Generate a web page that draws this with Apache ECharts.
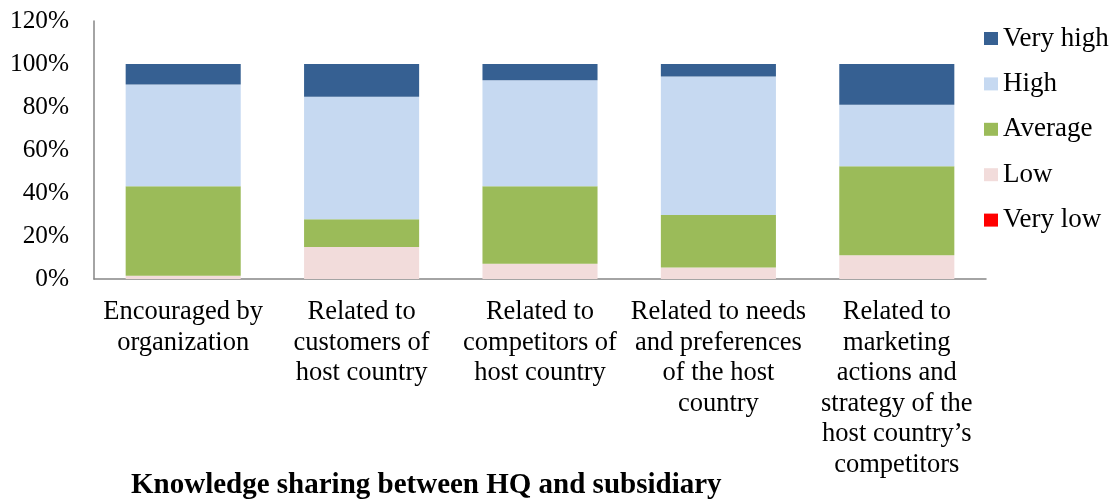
<!DOCTYPE html>
<html>
<head>
<meta charset="utf-8">
<script src="https://cdn.jsdelivr.net/npm/echarts@6/dist/echarts.min.js"></script>
<style>
  html, body { margin: 0; padding: 0; background: #fff; }
  #chart { width: 1115px; height: 499px; }
</style>
</head>
<body>
<div id="chart"></div>
<script>
// Knowledge sharing levels per topic, in percent of respondents
const categories = [
  'Encouraged by\norganization',
  'Related to\ncustomers of\nhost country',
  'Related to\ncompetitors of\nhost country',
  'Related to needs\nand preferences\nof the host\ncountry',
  'Related to\nmarketing\nactions and\nstrategy of the\nhost country\u2019s\ncompetitors'
];
const veryLow  = [0, 0, 0, 0, 0];
const low      = [1.5, 14.9, 7.1, 5.4, 11.0];
const average  = [41.6, 12.9, 36.0, 24.4, 41.4];
const high     = [47.4, 57.0, 49.3, 64.4, 28.6];
const veryHigh = [9.5, 15.2, 7.6, 5.8, 19.0];

const seriesNames = ['Very low', 'Low', 'Average', 'High', 'Very high'];
const legendOrder = ['Very high', 'High', 'Average', 'Low', 'Very low'];
const colors = {
  'Very low': '#FF0000',
  'Low': '#F2DCDB',
  'Average': '#9BBB59',
  'High': '#C6D9F1',
  'Very high': '#366092'
};
const values = [veryLow, low, average, high, veryHigh];

const font = '"Liberation Serif", "Times New Roman", serif';

const chart = echarts.init(document.getElementById('chart'));
chart.setOption({
  animation: false,
  textStyle: { fontFamily: font },
  title: {
    text: 'Knowledge sharing between HQ and subsidiary',
    left: 126,
    top: 466,
    textStyle: { fontFamily: font, fontSize: 29, fontWeight: 'bold', color: '#000' }
  },
  legend: {
    orient: 'vertical',
    left: 979,
    top: 20,
    itemWidth: 14,
    itemHeight: 13,
    itemGap: 18.4,
    icon: 'rect',
    data: legendOrder,
    textStyle: { fontFamily: font, fontSize: 27, color: '#000', padding: [0, 0, 0, 0] }
  },
  grid: { left: 94, right: 129, top: 21, bottom: 220 },
  xAxis: {
    type: 'category',
    data: categories,
    axisLine: { lineStyle: { color: '#868686', width: 1.5 } },
    axisTick: { show: false },
    axisLabel: {
      interval: 0,
      margin: 18,
      color: '#000',
      fontFamily: font,
      fontSize: 26.5,
      lineHeight: 30.5
    }
  },
  yAxis: {
    type: 'value',
    min: 0,
    max: 120,
    interval: 20,
    axisLine: { show: true, lineStyle: { color: '#868686', width: 1.5 } },
    axisTick: { show: false },
    splitLine: { show: false },
    axisLabel: {
      formatter: '{value}%',
      margin: 25,
      color: '#000',
      fontFamily: font,
      fontSize: 25.3
    }
  },
  series: seriesNames.map((name, i) => ({
    name: name,
    type: 'bar',
    stack: 'total',
    barWidth: '64.5%',
    itemStyle: { color: colors[name] },
    data: values[i]
  }))
});
</script>
</body>
</html>
